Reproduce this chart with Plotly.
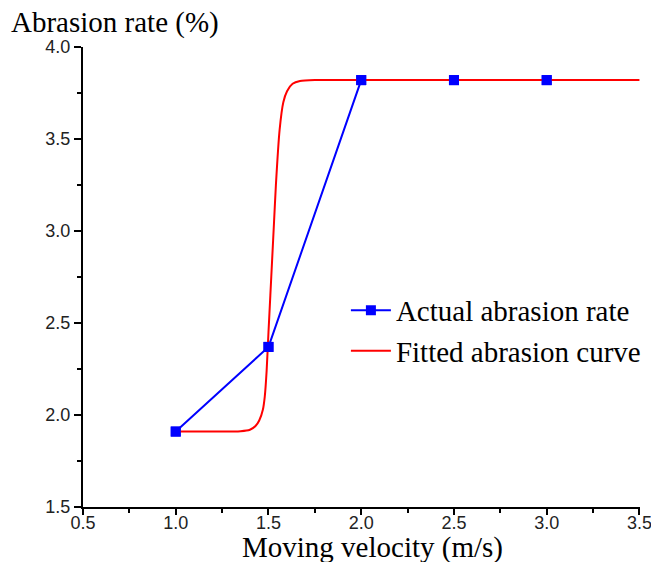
import plotly.graph_objects as go

# Data
actual_x = [1.0, 1.5, 2.0, 2.5, 3.0]
actual_y = [1.91, 2.37, 3.82, 3.82, 3.82]

fit_x = [1.0, 1.2, 1.35, 1.40, 1.43, 1.45, 1.47, 1.48, 1.49, 1.50, 1.51, 1.52,
         1.53, 1.54, 1.56, 1.58, 1.60, 1.63, 1.67, 1.75, 2.0, 2.5, 3.0, 3.5]
fit_y = [1.91, 1.91, 1.912, 1.92, 1.94, 1.97, 2.03, 2.10, 2.24, 2.45, 2.65, 2.85,
         3.05, 3.25, 3.55, 3.70, 3.76, 3.80, 3.815, 3.82, 3.82, 3.82, 3.82, 3.82]

x_ticks = [0.5, 1.0, 1.5, 2.0, 2.5, 3.0, 3.5]
y_ticks = [1.5, 2.0, 2.5, 3.0, 3.5, 4.0]

serif = "Liberation Serif, Times New Roman, serif"
sans = "Liberation Sans Narrow, Arial Narrow, Liberation Sans, Arial, sans-serif"

fig = go.Figure()
fig.add_trace(go.Scatter(
    x=actual_x, y=actual_y, mode="lines+markers", name="Actual abrasion rate",
    line=dict(color="#0000FF", width=2),
    marker=dict(symbol="square", size=10, color="#0000FF"),
))
fig.add_trace(go.Scatter(
    x=fit_x, y=fit_y, mode="lines", name="Fitted abrasion curve",
    line=dict(color="#FF0000", width=2, shape="spline", smoothing=0.6),
))
# markers redrawn on top of the fitted curve
fig.add_trace(go.Scatter(
    x=actual_x, y=actual_y, mode="markers", showlegend=False, hoverinfo="skip",
    marker=dict(symbol="square", size=10, color="#0000FF"),
))

fig.update_layout(
    width=651, height=562,
    margin=dict(l=83, r=11, t=47, b=55, autoexpand=False),
    paper_bgcolor="white", plot_bgcolor="white",
    showlegend=True,
    legend=dict(
        x=0.472, y=0.483, xanchor="left", yanchor="top",
        font=dict(family=serif, size=29, color="black"),
        bgcolor="rgba(0,0,0,0)", tracegroupgap=0, itemwidth=40,
    ),
    xaxis=dict(
        range=[0.5, 3.503], tickvals=x_ticks, ticktext=[f"{v:.1f}" for v in x_ticks],
        showgrid=False, zeroline=False, showline=True, linecolor="black", linewidth=2,
        ticks="outside", ticklen=6, tickwidth=1.5, tickcolor="black",
        tickfont=dict(family=sans, size=18, color="#222222"),
        ticklabelstandoff=-8, ticklabeloverflow="allow",
        minor=dict(ticks="outside", ticklen=4, tickwidth=1.5, tickcolor="black", dtick=0.25, showgrid=False),
        automargin=False,
    ),
    yaxis=dict(
        range=[1.5, 4.0], tickvals=y_ticks, ticktext=[f"{v:.1f}" for v in y_ticks],
        showgrid=False, zeroline=False, showline=True, linecolor="black", linewidth=2,
        ticks="outside", ticklen=7, tickwidth=1.5, tickcolor="black",
        tickfont=dict(family=sans, size=18, color="#222222"),
        ticklabeloverflow="allow",
        minor=dict(ticks="outside", ticklen=4, tickwidth=1.5, tickcolor="black", dtick=0.25, showgrid=False),
        automargin=False,
    ),
    annotations=[
        dict(
            text="Abrasion rate (%)", xref="paper", yref="paper", x=-0.133, y=1.0,
            xanchor="left", yanchor="bottom", yshift=6, showarrow=False,
            font=dict(family=serif, size=29, color="black"),
        ),
        dict(
            text="Moving velocity (m/s)", xref="paper", yref="paper", x=0.519, y=-0.089,
            xanchor="center", yanchor="middle", showarrow=False,
            font=dict(family=serif, size=29, color="black"),
        ),
    ],
)

fig.write_html("out.html")
